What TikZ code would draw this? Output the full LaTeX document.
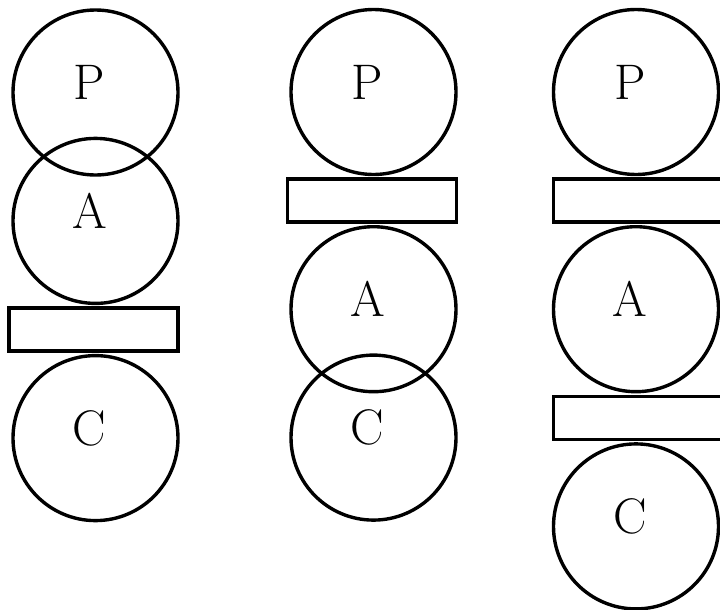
\documentclass[tikz,border=0pt]{standalone}
\usepackage{tikz}
\usetikzlibrary{positioning}
\tikzset{%
  ball/.style={circle, draw=black, line width=3.4pt, inner sep=0pt, minimum size=165pt},
  plate/.style={rectangle, draw=black, line width=3.4pt, inner sep=0pt, minimum width=169pt, minimum height=43pt},
  tag/.style={font=\fontsize{50}{60}\selectfont, xshift=-6pt, yshift=10pt}
}

\begin{document}
\begin{tikzpicture}[x={(1pt,0)}, y={(0,-1pt)}, node distance=1.2pt]
  \useasboundingbox (0,0) rectangle (720,610);

  % first column
  \node[ball, label={[tag]center:P}] (p1) at (95.5,92.5) {};
  \node[ball, label={[tag]center:A}, below=-40pt of p1] (a1) {};
  \node[plate, below=of a1, xshift=-2pt] (r1) {};
  \node[ball, label={[tag]center:C}, below=of r1, xshift=2pt] (c1) {};

  % second column
  \node[ball, label={[tag]center:P}] (p2) at (373.5,92) {};
  \node[plate, below=of p2, xshift=-1.5pt] (r2) {};
  \node[ball, label={[tag]center:A}, below=of r2, xshift=1.5pt] (a2) {};
  \node[ball, label={[tag]center:C}, below=-40pt of a2] (c2) {};

  % third column
  \node[ball, label={[tag]center:P}] (p3) at (636,92) {};
  \node[plate, below=of p3, xshift=2pt] (r3) {};
  \node[ball, label={[tag]center:A}, below=of r3, xshift=-2pt] (a3) {};
  \node[plate, below=of a3, xshift=2pt] (r4) {};
  \node[ball, label={[tag]center:C}, below=of r4, xshift=-2pt] (c3) {};

\end{tikzpicture}
\end{document}
